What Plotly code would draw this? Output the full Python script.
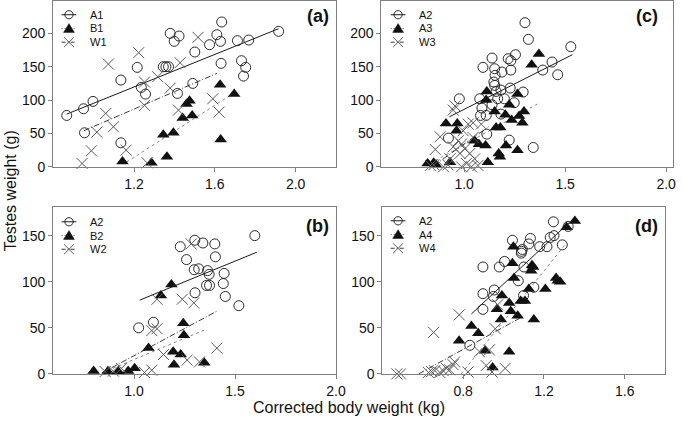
import plotly.graph_objects as go

W, H = 685, 428

# ---------------- Panel (a) ----------------
a_A1_x = [0.867, 0.95, 0.997, 0.955, 1.135, 1.135, 1.216, 1.236, 1.257, 1.345, 1.358, 1.371, 1.379, 1.399,
          1.423, 1.415, 1.491, 1.501, 1.574, 1.61, 1.634, 1.628, 1.631, 1.712, 1.732, 1.753, 1.742, 1.768, 1.916]
a_A1_y = [77, 87, 98, 51, 36, 130, 149, 119, 109, 150, 150, 150, 200, 188,
          196, 110, 125, 172, 183, 198, 217, 188, 155, 189, 159, 149, 136, 190, 203]
a_B1_x = [1.143, 1.286, 1.363, 1.345, 1.395, 1.441, 1.46, 1.475, 1.488, 1.626, 1.629, 1.696]
a_B1_y = [8, 6, 15, 48, 51, 73, 94, 99, 77, 123, 41, 109]
a_W1_x = [0.943, 0.989, 1.016, 1.06, 1.098, 1.073, 1.161, 1.223, 1.252, 1.252, 1.265, 1.317, 1.379,
          1.42, 1.428, 1.517, 1.59, 1.621]
a_W1_y = [5, 24, 52, 80, 60, 154, 25, 171, 127, 92, 6, 135, 118, 85, 156, 194, 102, 82]
a_A1_fit_x = [0.867, 1.916]
a_A1_fit_y = [79, 207]
a_B1_fit_x = [1.163, 1.691]
a_B1_fit_y = [7, 110]
a_W1_fit_x = [0.951, 1.61]
a_W1_fit_y = [54, 140]

# ---------------- Panel (c) ----------------
c_A2_x = [0.922, 0.976, 1.077, 1.093, 1.088, 1.081, 1.109, 1.112, 1.138, 1.138, 1.151, 1.153, 1.147, 1.151,
          1.158, 1.166, 1.182, 1.187, 1.199, 1.182, 1.218, 1.231, 1.231, 1.254, 1.228, 1.248, 1.223, 1.292,
          1.301, 1.318, 1.342, 1.389, 1.435, 1.463, 1.528]
c_A2_y = [43, 102, 102, 149, 88, 77, 77, 49, 163, 93, 147, 137, 127, 122,
          113, 102, 115, 142, 102, 79, 162, 159, 145, 168, 118, 96, 40, 112,
          216, 191, 29, 145, 157, 138, 180]
c_A3_x = [0.819, 0.849, 0.86, 0.91, 0.966, 0.962, 0.93, 1.052, 1.073, 1.106, 1.117, 1.109, 1.112, 1.151,
          1.158, 1.179, 1.171, 1.177, 1.204, 1.207, 1.223, 1.235, 1.264, 1.264, 1.272, 1.288, 1.296,
          1.334, 1.37]
c_A3_y = [5, 6, 3, 65, 65, 54, 7, 39, 34, 32, 7, 100, 113, 83,
          59, 59, 20, 15, 78, 32, 93, 70, 25, 109, 76, 66, 83,
          153, 169]
c_W3_x = [0.833, 0.85, 0.857, 0.881, 0.898, 0.92, 0.93, 0.946, 0.946, 0.955, 0.971, 0.979, 0.987, 0.987,
          0.995, 1.003, 1.011, 1.02, 1.028, 1.036, 1.044, 1.044, 1.052, 1.068, 1.085]
c_W3_y = [2, 3, 26, 45, 0, 3, 12, 30, 85, 91, 39, 20, 34, 0,
          54, 27, 5, 64, 20, 0, 44, 66, 12, 2, 64]
c_A2_fit_x = [0.927, 1.536]
c_A2_fit_y = [75, 168]
c_A3_fit_x = [0.832, 1.362]
c_A3_fit_y = [5, 94]
c_W3_fit_x = [0.85, 1.12]
c_W3_fit_y = [2, 60]

# ---------------- Panel (b) ----------------
b_A2_x = [1.023, 1.096, 1.229, 1.26, 1.298, 1.32, 1.301, 1.341, 1.302, 1.364, 1.372, 1.359, 1.374,
          1.4, 1.403, 1.446, 1.442, 1.452, 1.519, 1.598]
b_A2_y = [50, 56, 138, 124, 113, 114, 145, 142, 88, 112, 108, 96, 96,
          141, 127, 109, 98, 84, 74, 150]
b_B2_x = [0.8, 0.87, 0.922, 0.971, 1.003, 1.072, 1.133, 1.185, 1.194, 1.198, 1.231, 1.244, 1.247, 1.348]
b_B2_y = [3, 2.5, 2.5, 3, 6, 28, 85, 97, 24, 10, 21, 55, 42, 12]
b_W2_x = [0.857, 0.898, 0.938, 1.052, 1.088, 1.088, 1.114, 1.114, 1.146, 1.239, 1.283, 1.296, 1.263,
          1.324, 1.41]
b_W2_y = [2.5, 3, 6, 1.5, 4, 47, 49, 81, 21, 81, 141, 77, 15, 13, 28]
b_A2_fit_x = [1.028, 1.608]
b_A2_fit_y = [80, 132]
b_B2_fit_x = [0.841, 1.353]
b_B2_fit_y = [1, 48]
b_W2_fit_x = [0.841, 1.41]
b_W2_fit_y = [1, 68]

# ---------------- Panel (d) ----------------
d_A2_x = [0.833, 0.898, 0.898, 0.898, 0.95, 0.954, 0.979, 1.005, 1.044, 1.073, 1.088, 1.089, 1.093,
          1.101, 1.099, 1.125, 1.133, 1.15, 1.179, 1.215, 1.231, 1.25, 1.247, 1.291, 1.32]
d_A2_y = [31, 70, 87, 116, 84, 91, 116, 122, 145, 101, 131, 133, 135,
          116, 85, 141, 147, 94, 138, 138, 148, 150, 165, 140, 160]
d_A4_x = [0.78, 0.841, 0.875, 0.909, 0.946, 0.992, 0.967, 0.987, 1.028, 1.036, 1.028, 1.044, 1.052,
          1.049, 1.07, 1.085, 1.106, 1.125, 1.137, 1.141, 1.146, 1.15, 1.207, 1.26, 1.268, 1.28,
          1.312, 1.353]
d_A4_y = [36, 52, 44, 25, 7, 85, 70, 59, 77, 68, 24, 120, 104,
          138, 63, 79, 79, 92, 112, 118, 116, 59, 92, 104, 101, 100,
          159, 166]
d_W4_x = [0.472, 0.49, 0.628, 0.644, 0.66, 0.685, 0.701, 0.717, 0.733, 0.75, 0.758, 0.654, 0.781,
          0.824, 0.881, 0.914, 0.93, 0.943, 0.959, 0.971, 1.008]
d_W4_y = [0, 0, 1.5, 2.5, 3.5, 1.5, 3.5, 6, 4.5, 10, 13, 45, 64,
          2, 24, 9, 26, 2, 49, 75, 6]
d_A2_fit_x = [0.841, 1.324]
d_A2_fit_y = [65, 164]
d_A4_fit_x = [0.79, 1.304]
d_A4_fit_y = [0, 140]
d_W4_fit_x = [0.58, 1.085]
d_W4_fit_y = [0, 61]

# ---------------- Layout geometry (pixels) ----------------
def px_x(p):
    return p / W

def px_y(p):
    return 1 - p / H

FONT = "Arial, Liberation Sans, sans-serif"
FRAME = "#7f7f7f"
CIRC = "#2a2a2a"
TRI = "#111111"
CROSS = "#5a5a5a"

fig = go.Figure()

panels = [
    ("a", "x", "y", ["A1", "B1", "W1"],
     [(a_A1_x, a_A1_y), (a_B1_x, a_B1_y), (a_W1_x, a_W1_y)],
     [(a_A1_fit_x, a_A1_fit_y), (a_B1_fit_x, a_B1_fit_y), (a_W1_fit_x, a_W1_fit_y)], (70, 89, 15)),
    ("c", "x2", "y2", ["A2", "A3", "W3"],
     [(c_A2_x, c_A2_y), (c_A3_x, c_A3_y), (c_W3_x, c_W3_y)],
     [(c_A2_fit_x, c_A2_fit_y), (c_A3_fit_x, c_A3_fit_y), (c_W3_fit_x, c_W3_fit_y)], (404, 423, 15)),
    ("b", "x3", "y3", ["A2", "B2", "W2"],
     [(b_A2_x, b_A2_y), (b_B2_x, b_B2_y), (b_W2_x, b_W2_y)],
     [(b_A2_fit_x, b_A2_fit_y), (b_B2_fit_x, b_B2_fit_y), (b_W2_fit_x, b_W2_fit_y)], (70, 89, 226)),
    ("d", "x4", "y4", ["A2", "A4", "W4"],
     [(d_A2_x, d_A2_y), (d_A4_x, d_A4_y), (d_W4_x, d_W4_y)],
     [(d_A2_fit_x, d_A2_fit_y), (d_A4_fit_x, d_A4_fit_y), (d_W4_fit_x, d_W4_fit_y)], (404, 423, 225)),
]

marker_styles = [
    dict(symbol="circle-open", size=10, color=CIRC, line=dict(width=1, color=CIRC)),
    dict(symbol="triangle-up", size=11, color=TRI, line=dict(width=0)),
    dict(symbol="x-thin-open", size=11, color=CROSS, line=dict(width=1, color=CROSS)),
]
line_styles = [
    dict(color="#1a1a1a", width=1, dash="solid"),
    dict(color="#8a8a8a", width=1, dash="dot"),
    dict(color="#3a3a3a", width=1, dash="6px,2px,1px,2px"),
]
legend_line_styles = [
    dict(color="#1a1a1a", width=1, dash="solid"),
    dict(color="#6a6a6a", width=1, dash="1px,2px"),
    dict(color="#3a3a3a", width=1, dash="4px,2px,1px,2px"),
]

shapes = []
annotations = []


def legend_key(cx, cy, kind, lstyle):
    # short sample line through the symbol, drawn in page pixels
    shapes.append(dict(type="line", xref="paper", yref="paper",
                       x0=px_x(cx - 7.5), x1=px_x(cx + 7.5), y0=px_y(cy), y1=px_y(cy), line=lstyle))
    if kind == 0:
        shapes.append(dict(type="circle", xref="paper", yref="paper",
                           x0=px_x(cx - 4.2), x1=px_x(cx + 4.2), y0=px_y(cy + 4.2), y1=px_y(cy - 4.2),
                           line=dict(color=CIRC, width=1), fillcolor="rgba(0,0,0,0)"))
    elif kind == 1:
        path = "M %f,%f L %f,%f L %f,%f Z" % (px_x(cx - 5.5), px_y(cy + 4), px_x(cx + 5.5), px_y(cy + 4),
                                             px_x(cx), px_y(cy - 5))
        shapes.append(dict(type="path", xref="paper", yref="paper", path=path,
                           fillcolor=TRI, line=dict(color=TRI, width=0.5)))
    else:
        path = "M %f,%f L %f,%f M %f,%f L %f,%f" % (px_x(cx - 5), px_y(cy - 5), px_x(cx + 5), px_y(cy + 5),
                                                   px_x(cx - 5), px_y(cy + 5), px_x(cx + 5), px_y(cy - 5))
        shapes.append(dict(type="path", xref="paper", yref="paper", path=path,
                           line=dict(color=CROSS, width=1)))


for key, xa, ya, names, data, fits, (gx, tx, ry) in panels:
    for i in range(3):
        fx, fy = fits[i]
        fig.add_trace(go.Scatter(x=fx, y=fy, mode="lines", line=line_styles[i], xaxis=xa, yaxis=ya,
                                 showlegend=False, hoverinfo="skip"))
    for i in range(3):
        dx, dy = data[i]
        fig.add_trace(go.Scatter(x=dx, y=dy, mode="markers", marker=marker_styles[i], xaxis=xa, yaxis=ya,
                                 name=names[i], showlegend=False, cliponaxis=False))
    for i in range(3):
        cy = ry + 14 * i
        legend_key(gx, cy, i, legend_line_styles[i])
        annotations.append(dict(text=names[i], x=px_x(tx), y=px_y(cy), xref="paper", yref="paper",
                                showarrow=False, xanchor="left", yanchor="middle",
                                font=dict(family=FONT, size=11, color="#111")))

axis_common = dict(showgrid=False, zeroline=False, showline=True, mirror=True, linecolor=FRAME,
                   linewidth=1, ticks="outside", ticklen=4, tickcolor=FRAME,
                   tickfont=dict(family=FONT, size=14, color="#111"))

top_y = [px_y(170), px_y(1)]
bot_y = [px_y(381), px_y(211)]
left_x = [px_x(54), px_x(341)]
right_c = [px_x(387), px_x(683)]
right_d = [px_x(388), px_x(675)]

fig.update_layout(
    width=W, height=H, margin=dict(l=0, r=0, t=0, b=0),
    paper_bgcolor="white", plot_bgcolor="white", showlegend=False,
    xaxis=dict(domain=left_x, range=[0.8, 2.2], tickvals=[1.2, 1.6, 2.0], ticktext=["1.2", "1.6", "2.0"],
               anchor="y", **axis_common),
    yaxis=dict(domain=top_y, range=[0, 248.5], tickvals=[0, 50, 100, 150, 200], anchor="x", **axis_common),
    xaxis2=dict(domain=right_c, range=[0.59, 2.034], tickvals=[1.0, 1.5, 2.0], ticktext=["1.0", "1.5", "2.0"],
                anchor="y2", **axis_common),
    yaxis2=dict(domain=top_y, range=[0, 248.5], tickvals=[0, 50, 100, 150, 200], anchor="x2", **axis_common),
    xaxis3=dict(domain=left_x, range=[0.6, 2.0], tickvals=[1.0, 1.5, 2.0], ticktext=["1.0", "1.5", "2.0"],
                anchor="y3", **axis_common),
    yaxis3=dict(domain=bot_y, range=[0, 181], tickvals=[0, 50, 100, 150], anchor="x3", **axis_common),
    xaxis4=dict(domain=right_d, range=[0.4, 1.8], tickvals=[0.8, 1.2, 1.6], ticktext=["0.8", "1.2", "1.6"],
                anchor="y4", **axis_common),
    yaxis4=dict(domain=bot_y, range=[0, 181], tickvals=[0, 50, 100, 150], anchor="x4", **axis_common),
)

for txt, xp, yp in [("(a)", 323, 16), ("(c)", 657, 16), ("(b)", 322, 230), ("(d)", 656, 230)]:
    annotations.append(dict(text="<b>%s</b>" % txt, x=px_x(xp), y=px_y(yp), xref="paper", yref="paper",
                            showarrow=False, xanchor="center", yanchor="middle",
                            font=dict(family=FONT, size=18, color="#111")))

annotations.append(dict(text="Corrected body weight (kg)", x=px_x(354), y=px_y(415), xref="paper",
                        yref="paper", showarrow=False, xanchor="center", yanchor="middle",
                        font=dict(family=FONT, size=16, color="#111")))
annotations.append(dict(text="Testes weight (g)", x=px_x(11), y=px_y(194), xref="paper", yref="paper",
                        showarrow=False, xanchor="center", yanchor="middle", textangle=-90,
                        font=dict(family=FONT, size=16, color="#111")))

fig.update_layout(shapes=shapes, annotations=annotations)

fig.write_html("out.html",
               config={"displayModeBar": False},
               post_script="document.body.style.margin='0px';document.body.style.padding='0px';"
                           "document.body.style.overflow='hidden';")
